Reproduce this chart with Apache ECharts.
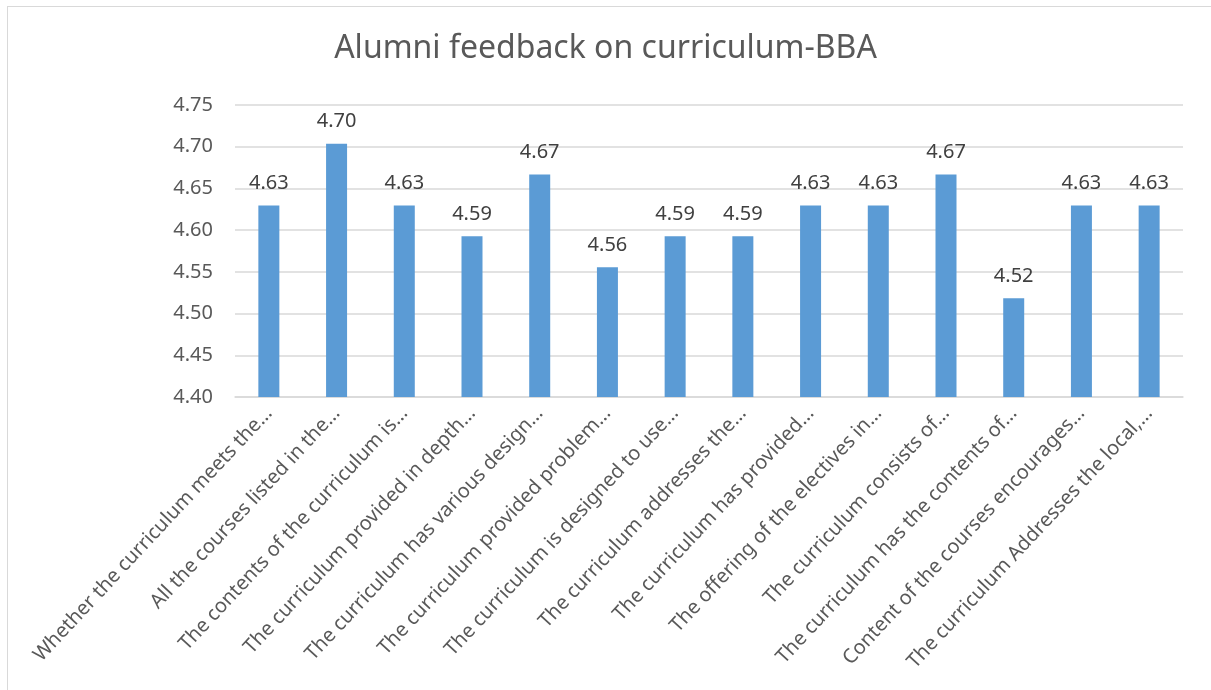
<!DOCTYPE html>
<html>
<head>
<meta charset="utf-8">
<title>Alumni feedback on curriculum-BBA</title>
<script src="https://cdn.jsdelivr.net/npm/echarts@6/dist/echarts.min.js"></script>
<style>
html, body { margin: 0; padding: 0; background: #fff; }
#frame {
    position: absolute; left: 7px; top: 6px; width: 1210px; height: 700px;
    border: 1px solid #d9d9d9; box-sizing: border-box;
}
#chart { position: absolute; left: 0; top: 0; width: 1211px; height: 690px; }
</style>
</head>
<body>
<div id="frame"></div>
<div id="chart"></div>
<script>
// categories (truncated as in the original chart)
var categories = [
    'Whether the curriculum meets the…',
    'All the courses listed in the…',
    'The contents of the curriculum is…',
    'The curriculum provided in depth…',
    'The curriculum has various design…',
    'The curriculum provided problem…',
    'The curriculum is designed to use…',
    'The curriculum addresses the…',
    'The curriculum has provided…',
    'The offering of the electives in…',
    'The curriculum consists of…',
    'The curriculum has the contents of…',
    'Content of the courses encourages…',
    'The curriculum Addresses the local,…'
];
// mean scores
var scores = [4.6296, 4.7037, 4.6296, 4.5926, 4.6667, 4.5556, 4.5926,
              4.5926, 4.6296, 4.6296, 4.6667, 4.5185, 4.6296, 4.6296];
var yTicks = { min: 4.40, max: 4.75, step: 0.05 };

var font = 'Noto Sans';
var chart = echarts.init(document.getElementById('chart'));
var option = {
    backgroundColor: 'transparent',
    title: {
        text: 'Alumni feedback on curriculum-BBA',
        left: 'center',
        top: 28,
        textStyle: { fontFamily: font, fontSize: 32, fontWeight: 'normal', color: '#595959' }
    },
    grid: { left: 235, right: 28, top: 105, bottom: 293 },
    xAxis: {
        type: 'category',
        data: categories,
        axisTick: { show: false },
        axisLine: { lineStyle: { color: '#d9d9d9', width: 1.5 } },
        axisLabel: {
            interval: 0,
            rotate: 47,
            margin: 13,
            fontFamily: font,
            fontSize: 20,
            color: '#595959'
        }
    },
    yAxis: {
        type: 'value',
        min: yTicks.min,
        max: yTicks.max,
        interval: yTicks.step,
        axisLine: { show: false },
        axisTick: { show: false },
        splitLine: { lineStyle: { color: '#d9d9d9', width: 1.5 } },
        axisLabel: {
            margin: 22,
            fontFamily: font,
            fontSize: 20,
            color: '#595959',
            formatter: function (v) { return v.toFixed(2); }
        }
    },
    series: [{
        type: 'bar',
        data: scores,
        barWidth: 21,
        itemStyle: { color: '#5b9bd5' },
        label: {
            show: true,
            position: 'top',
            distance: 12,
            fontFamily: font,
            fontSize: 20,
            color: '#404040',
            formatter: function (p) { return p.value.toFixed(2); }
        }
    }]
};
chart.setOption(option);
</script>
</body>
</html>
